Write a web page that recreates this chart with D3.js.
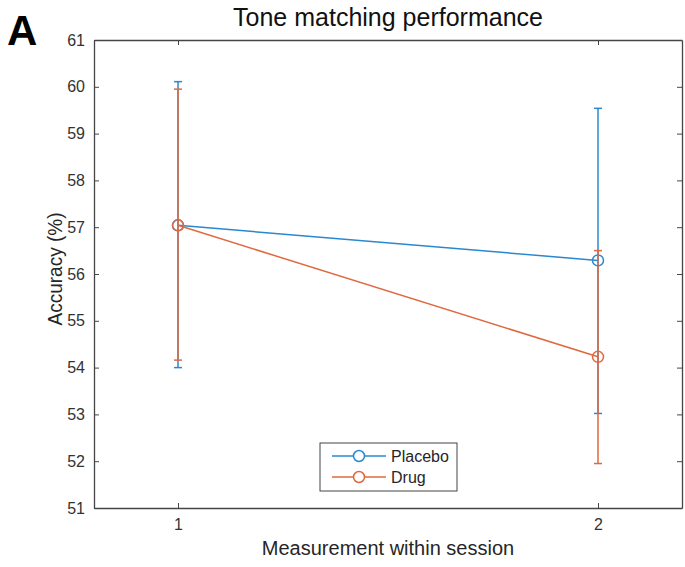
<!DOCTYPE html>
<head>
  <meta charset="utf-8">
  <script src="https://d3js.org/d3.v7.min.js"></script>
  <style>
    body { margin: 0; background: #fff; }
    text { font-family: "Liberation Sans", Arial, sans-serif; }
    .axis path, .axis line { stroke: #454545; }
    .axis text { fill: #333; font-size: 16px; }
  </style>
</head>
<body>
  <svg id="chart" width="685" height="567"></svg>
  <script>
    var measurements = [1, 2];
    var yTicks = [51, 52, 53, 54, 55, 56, 57, 58, 59, 60, 61];
    var placeboMean = [57.04, 56.29];
    var placeboLow = [54.0, 53.02];
    var placeboHigh = [60.11, 59.54];
    var drugMean = [57.04, 54.23];
    var drugLow = [54.16, 51.95];
    var drugHigh = [59.95, 56.5];

    var series = [
      { name: 'Placebo', color: '#2a88cf', mean: placeboMean, low: placeboLow, high: placeboHigh },
      { name: 'Drug', color: '#e0683f', mean: drugMean, low: drugLow, high: drugHigh }
    ];

    var chart = d3.select('#chart');
    var margin = { top: 40, right: 3, bottom: 59, left: 94 };
    var width = chart.attr('width') - margin.left - margin.right;
    var height = chart.attr('height') - margin.top - margin.bottom;

    var x = d3.scaleLinear().domain([0.8, 2.2]).range([0, width]);
    var y = d3.scaleLinear().domain([51, 61]).range([height, 0]);

    var g = chart.append('g')
      .attr('transform', 'translate(' + margin.left + ',' + margin.top + ')');

    // axes, MATLAB style box with inward ticks
    g.append('g').attr('class', 'axis')
      .attr('transform', 'translate(0,' + height + ')')
      .call(d3.axisBottom(x).tickValues(measurements).tickFormat(d3.format('d')).tickSizeInner(-5).tickSizeOuter(0).tickPadding(11));
    g.append('g').attr('class', 'axis')
      .call(d3.axisTop(x).tickValues(measurements).tickFormat('').tickSizeInner(-5).tickSizeOuter(0));
    g.append('g').attr('class', 'axis')
      .call(d3.axisLeft(y).tickValues(yTicks).tickFormat(d3.format('d')).tickSizeInner(-5).tickSizeOuter(0).tickPadding(9));
    g.append('g').attr('class', 'axis')
      .attr('transform', 'translate(' + width + ',0)')
      .call(d3.axisRight(y).tickValues(yTicks).tickFormat('').tickSizeInner(-5).tickSizeOuter(0));
    g.selectAll('.axis path').attr('stroke-width', 1.3);

    var line = d3.line()
      .x((d, i) => x(measurements[i]))
      .y((d) => y(d));

    series.forEach(function (s) {
      var sg = g.append('g');
      var pts = measurements.map((m, i) => ({ m: m, mean: s.mean[i], low: s.low[i], high: s.high[i] }));

      sg.selectAll('line.bar').data(pts).enter().append('line')
        .attr('x1', (d) => x(d.m)).attr('x2', (d) => x(d.m))
        .attr('y1', (d) => y(d.low)).attr('y2', (d) => y(d.high))
        .attr('stroke', s.color).attr('stroke-width', 1.5);
      ['low', 'high'].forEach(function (k) {
        sg.selectAll('line.cap-' + k).data(pts).enter().append('line')
          .attr('x1', (d) => x(d.m) - 4).attr('x2', (d) => x(d.m) + 4)
          .attr('y1', (d) => y(d[k])).attr('y2', (d) => y(d[k]))
          .attr('stroke', s.color).attr('stroke-width', 1.5);
      });

      sg.append('path').datum(s.mean)
        .attr('d', line)
        .attr('fill', 'none')
        .attr('stroke', s.color)
        .attr('stroke-width', 1.5);

      sg.selectAll('circle').data(pts).enter().append('circle')
        .attr('cx', (d) => x(d.m)).attr('cy', (d) => y(d.mean))
        .attr('r', 5.5)
        .attr('fill', 'none')
        .attr('stroke', s.color)
        .attr('stroke-width', 1.5);
    });

    // legend
    var legend = g.append('g').attr('transform', 'translate(' + (320 - margin.left) + ',' + (443 - margin.top) + ')');
    legend.append('rect')
      .attr('width', 137).attr('height', 48)
      .attr('fill', '#fff').attr('stroke', '#454545').attr('stroke-width', 1);
    series.forEach(function (s, i) {
      var ly = 13 + i * 21;
      legend.append('line')
        .attr('x1', 12).attr('x2', 66).attr('y1', ly).attr('y2', ly)
        .attr('stroke', s.color).attr('stroke-width', 1.5);
      legend.append('circle')
        .attr('cx', 39).attr('cy', ly).attr('r', 5.5)
        .attr('fill', '#fff').attr('stroke', s.color).attr('stroke-width', 1.5);
      legend.append('text')
        .attr('x', 71).attr('y', ly + 6)
        .attr('font-size', 16).attr('fill', '#262626')
        .text(s.name);
    });

    // titles and labels
    chart.append('text')
      .attr('x', margin.left + width / 2).attr('y', 26)
      .attr('text-anchor', 'middle').attr('font-size', 25).attr('fill', '#111')
      .text('Tone matching performance');
    chart.append('text')
      .attr('x', 7).attr('y', 45)
      .attr('font-size', 42).attr('font-weight', 'bold').attr('fill', '#000')
      .text('A');
    chart.append('text')
      .attr('x', margin.left + width / 2).attr('y', 555)
      .attr('text-anchor', 'middle').attr('font-size', 20).attr('fill', '#262626')
      .text('Measurement within session');
    chart.append('text')
      .attr('transform', 'translate(62,269) rotate(-90)')
      .attr('text-anchor', 'middle').attr('font-size', 20).attr('fill', '#262626')
      .attr('textLength', 113).attr('lengthAdjust', 'spacingAndGlyphs')
      .text('Accuracy (%)');
  </script>
</body>
</html>
